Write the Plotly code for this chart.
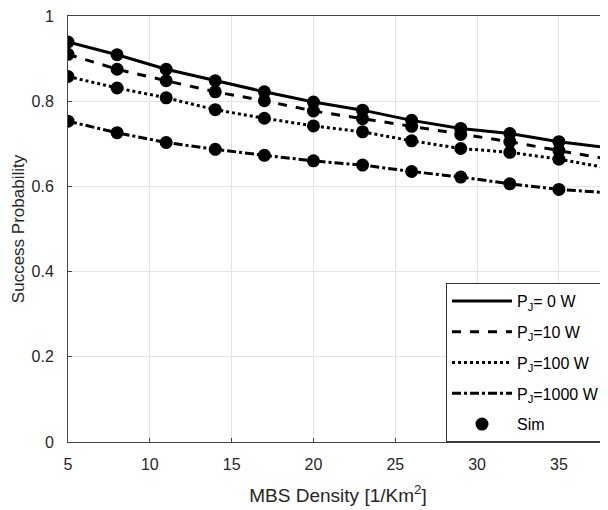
import plotly.graph_objects as go

# MBS density [1/Km^2]
density = [5, 8, 11, 14, 17, 20, 23, 26, 29, 32, 35, 38]

# success probability per jammer power
p_0w = [0.939, 0.909, 0.875, 0.848, 0.822, 0.798, 0.779, 0.755, 0.736, 0.724, 0.705, 0.691]
p_10w = [0.910, 0.875, 0.848, 0.822, 0.801, 0.777, 0.759, 0.741, 0.722, 0.705, 0.684, 0.664]
p_100w = [0.858, 0.831, 0.808, 0.780, 0.760, 0.742, 0.728, 0.707, 0.689, 0.680, 0.664, 0.643]
p_1000w = [0.753, 0.726, 0.703, 0.687, 0.673, 0.660, 0.650, 0.635, 0.622, 0.606, 0.593, 0.585]

series = [
    ("P<sub>J</sub>= 0 W", p_0w, "solid"),
    ("P<sub>J</sub>=10 W", p_10w, "dash"),
    ("P<sub>J</sub>=100 W", p_100w, "dot"),
    ("P<sub>J</sub>=1000 W", p_1000w, "dashdot"),
]

fig = go.Figure()

for i, (name, vals, dash) in enumerate(series):
    fig.add_trace(go.Scatter(
        x=density, y=vals, mode="lines", name=name, legendgroup=f"g{i}",
        line=dict(color="black", width=3, dash=dash),
    ))

for i, (name, vals, dash) in enumerate(series):
    fig.add_trace(go.Scatter(
        x=density, y=vals, mode="markers", name="Sim", legendgroup="sim",
        marker=dict(color="black", size=13),
        showlegend=(i == 0),
    ))

axis_style = dict(
    showline=True, linecolor="#444444", linewidth=1, mirror=True,
    ticks="inside", ticklen=4, tickcolor="#444444",
    showgrid=True, gridcolor="#e3e3e3", gridwidth=1,
    zeroline=False, automargin=False,
    tickfont=dict(size=16, color="#262626"),
    ticklabeloverflow="allow",
)

fig.update_xaxes(
    range=[5, 38], tickvals=[5, 10, 15, 20, 25, 30, 35],
    ticklabelstandoff=8,
    title=dict(text="MBS Density [1/Km<sup>2</sup>]", font=dict(size=19, color="#262626"), standoff=16),
    **axis_style,
)
fig.update_yaxes(
    range=[0, 1], tickvals=[0, 0.2, 0.4, 0.6, 0.8, 1],
    ticktext=["0", "0.2", "0.4", "0.6", "0.8", "1"],
    ticklabelstandoff=10,
    title=dict(text="Success Probability", font=dict(size=17, color="#262626"), standoff=2),
    **axis_style,
)

# page body adds an 8px offset; margins below compensate for it
fig.update_layout(
    width=600, height=502,
    margin=dict(l=60, r=0, t=8, b=68),
    plot_bgcolor="white", paper_bgcolor="white",
    font=dict(family="Liberation Sans, Arial, sans-serif", color="#262626"),
    legend=dict(
        x=0.70, y=0, xanchor="left", yanchor="bottom",
        bgcolor="white", bordercolor="#333333", borderwidth=1,
        font=dict(size=16, color="#000000"),
        tracegroupgap=7, itemwidth=60,
    ),
)

fig.write_html("out.html")
